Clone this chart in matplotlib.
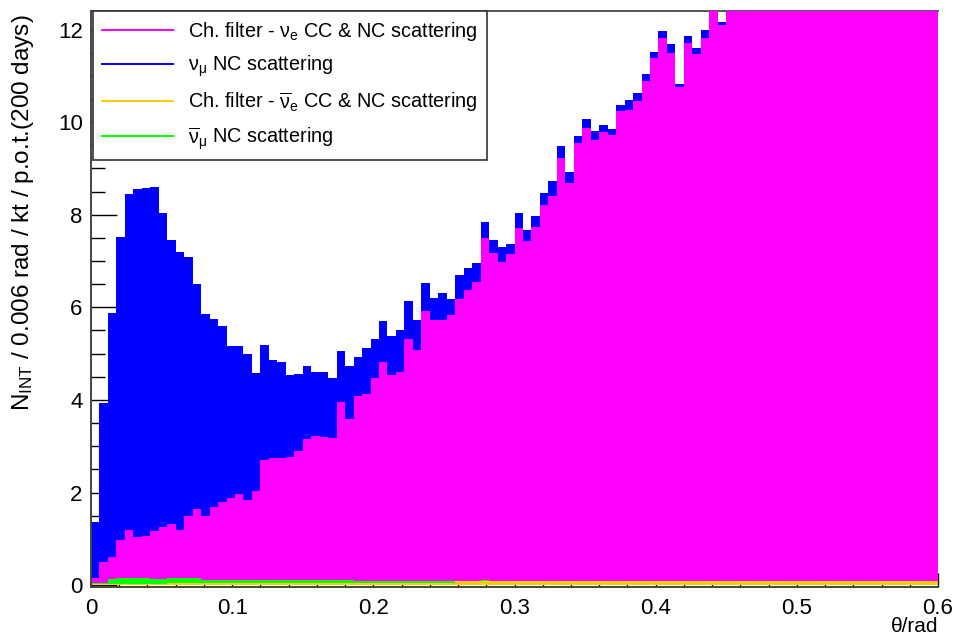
import numpy as np
import matplotlib.pyplot as plt
from matplotlib.lines import Line2D
from matplotlib.ticker import MultipleLocator, FormatStrFormatter

plt.rcParams['font.family'] = ['Liberation Sans', 'DejaVu Sans']
plt.rcParams['mathtext.fontset'] = 'custom'
plt.rcParams['mathtext.rm'] = 'Liberation Sans'
plt.rcParams['mathtext.it'] = 'Liberation Sans:italic'

# 100 bins of 0.006 rad between 0 and 0.6
theta_edges = np.linspace(0.0, 0.6, 101)

# anti nu_e CC & NC (charge filter)
anue = [0.02, 0.02, 0.02, 0.02, 0.02, 0.02, 0.02, 0.02, 0.02, 0.04,
        0.04, 0.04, 0.04, 0.04, 0.04, 0.04, 0.04, 0.04, 0.04, 0.04,
        0.04, 0.04, 0.04, 0.04, 0.04, 0.04, 0.04, 0.04, 0.04, 0.04,
        0.04, 0.04, 0.04, 0.04, 0.04, 0.04, 0.04, 0.04, 0.04, 0.04,
        0.04, 0.04, 0.04, 0.09, 0.09, 0.09, 0.09, 0.09, 0.09, 0.09,
        0.09, 0.09, 0.09, 0.09, 0.09, 0.09, 0.09, 0.09, 0.09, 0.09,
        0.09, 0.09, 0.09, 0.09, 0.09, 0.09, 0.09, 0.09, 0.09, 0.09,
        0.09, 0.09, 0.09, 0.09, 0.09, 0.09, 0.09, 0.09, 0.09, 0.09,
        0.09, 0.09, 0.09, 0.09, 0.09, 0.09, 0.09, 0.09, 0.09, 0.09,
        0.09, 0.09, 0.09, 0.09, 0.09, 0.09, 0.09, 0.09, 0.09, 0.09]

# anti nu_mu NC
anumu = [0.03, 0.03, 0.11, 0.13, 0.13, 0.13, 0.13, 0.11, 0.11, 0.11,
         0.11, 0.11, 0.11, 0.08, 0.08, 0.08, 0.08, 0.08, 0.08, 0.08,
         0.08, 0.08, 0.08, 0.08, 0.08, 0.08, 0.08, 0.08, 0.08, 0.08,
         0.08, 0.05, 0.05, 0.05, 0.05, 0.05, 0.05, 0.05, 0.05, 0.05,
         0.05, 0.05, 0.05, 0.0, 0.0, 0.0, 0.02, 0.0, 0.0, 0.0,
         0.0, 0.0, 0.0, 0.0, 0.0, 0.0, 0.0, 0.0, 0.0, 0.0,
         0.0, 0.0, 0.0, 0.0, 0.0, 0.0, 0.0, 0.0, 0.0, 0.0,
         0.0, 0.0, 0.0, 0.0, 0.0, 0.0, 0.0, 0.0, 0.0, 0.0,
         0.0, 0.0, 0.0, 0.0, 0.0, 0.0, 0.0, 0.0, 0.0, 0.0,
         0.0, 0.0, 0.0, 0.0, 0.0, 0.0, 0.0, 0.0, 0.0, 0.0]

# nu_e CC & NC (charge filter)
nue = [0.10, 0.45, 0.48, 0.82, 1.05, 0.89, 0.92, 1.04, 1.13, 1.17,
       1.05, 1.34, 1.50, 1.38, 1.56, 1.67, 1.77, 1.84, 1.71, 1.91,
       2.59, 2.62, 2.62, 2.65, 2.78, 3.04, 3.11, 3.08, 3.05, 3.83,
       3.47, 4.00, 4.03, 4.39, 4.73, 4.45, 4.51, 5.23, 4.99, 5.83,
       5.63, 5.63, 5.74, 6.09, 6.28, 6.45, 7.38, 7.09, 6.88, 7.07,
       7.63, 7.34, 7.65, 8.12, 8.32, 9.13, 8.59, 9.46, 9.79, 9.53,
       9.70, 9.63, 10.14, 10.18, 10.37, 10.80, 11.29, 11.72, 11.41, 10.67,
       11.62, 11.39, 11.72, 12.50, 12.01, 12.6, 12.8, 13.0, 12.9, 13.3,
       13.5, 13.6, 13.9, 14.0, 14.2, 14.5, 14.4, 14.8, 15.0, 15.1,
       15.4, 15.5, 15.8, 15.9, 16.1, 16.4, 16.5, 16.7, 17.0, 17.1]

# nu_mu NC
numu = [1.22, 3.44, 5.27, 6.55, 7.24, 7.52, 7.50, 7.43, 6.78, 6.13,
        5.99, 5.60, 4.85, 4.35, 4.07, 3.80, 3.27, 3.20, 3.17, 2.55,
        2.48, 2.13, 2.08, 1.77, 1.67, 1.57, 1.37, 1.40, 1.31, 1.11,
        1.15, 0.84, 1.01, 0.84, 0.89, 0.85, 0.92, 0.82, 0.64, 0.61,
        0.49, 0.58, 0.36, 0.52, 0.49, 0.42, 0.36, 0.27, 0.34, 0.20,
        0.32, 0.25, 0.24, 0.25, 0.32, 0.26, 0.25, 0.16, 0.18, 0.18,
        0.15, 0.14, 0.14, 0.20, 0.16, 0.16, 0.14, 0.16, 0.18, 0.06,
        0.16, 0.13, 0.19, 0.15, 0.07, 0.15, 0.14, 0.16, 0.13, 0.15,
        0.14, 0.12, 0.15, 0.13, 0.14, 0.12, 0.13, 0.14, 0.12, 0.13,
        0.11, 0.12, 0.13, 0.11, 0.12, 0.11, 0.12, 0.10, 0.11, 0.10]

layers = [anue, anumu, nue, numu]
colors = ['#ffcc00', '#00ff00', '#ff00ff', '#0000ff']
labels = [r'Ch. filter - ν$_{\mathrm{e}}$ CC & NC scattering',
          r'ν$_{\mathrm{μ}}$ NC scattering',
          r'Ch. filter - $\overline{\mathrm{ν}}_{\mathrm{e}}$ CC & NC scattering',
          r'$\overline{\mathrm{ν}}_{\mathrm{μ}}$ NC scattering']
legend_colors = ['#ff00ff', '#0000ff', '#ffcc00', '#00ff00']

fig = plt.figure(figsize=(9.56, 6.39), dpi=100)
ax = fig.add_axes([91 / 956, 1 - 587 / 639, (938 - 91) / 956, (587 - 11) / 639])

# stacked histograms
base = np.zeros(len(nue))
for vals, col in zip(layers, colors):
    top = base + np.array(vals)
    ax.stairs(top, theta_edges, baseline=base, fill=True, color=col,
              lw=0, zorder=2)
    base = top

ax.set_xlim(0, 0.6)
ax.set_ylim(-0.04, 12.4)

ax.set_xticks(np.arange(0, 0.61, 0.1))
ax.xaxis.set_major_formatter(FormatStrFormatter('%g'))
ax.xaxis.set_minor_locator(MultipleLocator(0.02))
ax.set_yticks(np.arange(0, 13, 2))
ax.yaxis.set_minor_locator(MultipleLocator(0.5))

ax.tick_params(which='both', direction='in', top=False, right=False,
               labelsize=16, width=1, color='black')
ax.tick_params(axis='y', which='major', length=19, pad=6)
ax.tick_params(axis='y', which='minor', length=10)
ax.tick_params(axis='x', which='major', length=10, pad=8)
ax.tick_params(axis='x', which='minor', length=5)

for side in ['left', 'bottom']:
    ax.spines[side].set_color('#444444')
    ax.spines[side].set_linewidth(1.4)
    ax.spines[side].set_zorder(5)
ax.spines['top'].set_color('#555555')
ax.spines['top'].set_linewidth(1.4)
ax.spines['top'].set_zorder(1)
ax.spines['right'].set_visible(False)

handles = [Line2D([], [], color=c, lw=1.4) for c in legend_colors]
leg = fig.legend(handles, labels, loc='upper left',
                 bbox_to_anchor=(93 / 956, 1 - 11 / 639), borderaxespad=0,
                 fontsize=14.3, handlelength=3.6, handletextpad=0.75,
                 labelspacing=0.55, borderpad=0.45, fancybox=False,
                 framealpha=1, edgecolor='#333333')
leg.get_frame().set_linewidth(1.2)
leg.set_zorder(10)

fig.text(23 / 956, 1 - 14 / 639,
         r'N$_{\mathrm{INT}}$ / 0.006 rad / kt / p.o.t.(200 days)',
         rotation=90, ha='center', va='top', fontsize=17.5)
fig.text(938 / 956, 1 - 627 / 639, 'θ/rad', ha='right', va='center',
         fontsize=15)

fig.savefig('out.png', dpi=100)
